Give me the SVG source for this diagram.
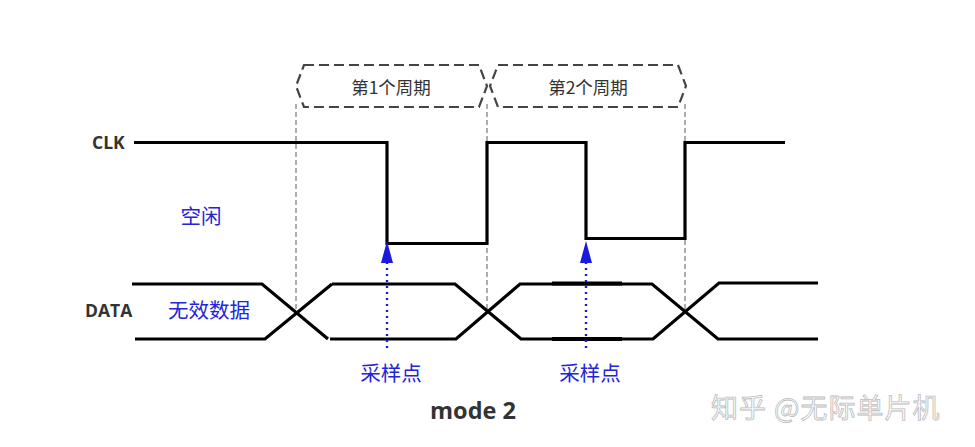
<svg xmlns="http://www.w3.org/2000/svg" width="975" height="447" viewBox="0 0 975 447">
<defs>
<style>
.sig{fill:none;stroke:#000;stroke-width:3.2;stroke-linejoin:miter;stroke-linecap:butt}
.guide{fill:none;stroke:#999;stroke-width:1.6;stroke-dasharray:5,3}
.brace{fill:none;stroke:#444;stroke-width:2.2;stroke-dasharray:10,5}
.samp{fill:none;stroke:#1a1ae0;stroke-width:2.4;stroke-dasharray:2,4}
.lbl{font-family:"Open Sans","Noto Sans",sans-serif;font-weight:bold;fill:#333}
.cn{font-family:"Noto Sans CJK SC",sans-serif;fill:#2424d8;font-size:20.5px}
.per{font-family:"Noto Sans CJK SC",sans-serif;fill:#333;font-size:17.5px}
</style>
</defs>
<rect width="975" height="447" fill="#fff"/>
<g id="guides">
<line class="guide" x1="296" y1="104" x2="296" y2="312"/>
<line class="guide" x1="487" y1="104" x2="487" y2="312"/>
<line class="guide" x1="685" y1="104" x2="685" y2="312"/>
</g>
<g id="period1">
<path class="brace" d="M304,65 L479,65 L487,86 L479,107 L304,107 L296,86 Z"/>
<text class="per" x="391" y="94" text-anchor="middle">第1个周期</text>
</g>
<g id="period2">
<path class="brace" d="M498,65 L678,65 L686,86 L678,107 L498,107 L490,86 Z"/>
<text class="per" x="588" y="94" text-anchor="middle">第2个周期</text>
</g>
<g id="clk">
<text class="lbl" x="92" y="148.5" font-size="17.5">CLK</text>
<path class="sig" d="M134,142.5 H387 V243.5 H487 V142.5 H586 V238.5 H685 V142.5 H785"/>
</g>
<g id="data">
<text class="lbl" x="85" y="317" font-size="17.5">DATA</text>
<path class="sig" d="M132,284 H262 L328,339"/>
<path class="sig" d="M135,339 H265 L332,284"/>
<path class="sig" d="M330,339 H456 L520,284 H652 L718,339 H818"/>
<path class="sig" d="M332,284 H455 L521,339 H653 L719,283 H818"/>
<line x1="552" y1="283.5" x2="622" y2="283.5" stroke="#000" stroke-width="4"/>
<line x1="552" y1="339" x2="622" y2="339" stroke="#000" stroke-width="4"/>
</g>
<g id="connectors">
<line class="samp" x1="387" y1="262" x2="387" y2="352"/>
<line class="samp" x1="586" y1="262" x2="586" y2="352"/>
<path d="M381,263 L387,241 L393,263 Z" fill="#1a1ae0"/>
<path d="M580,263 L586,241 L592,263 Z" fill="#1a1ae0"/>
</g>
<g id="labels">
<text class="cn" x="201" y="224" text-anchor="middle">空闲</text>
<text class="cn" x="209" y="318" text-anchor="middle">无效数据</text>
<text class="cn" x="391" y="381" text-anchor="middle">采样点</text>
<text class="cn" x="590" y="381" text-anchor="middle">采样点</text>
<text class="lbl" x="473" y="419" font-size="23.5" text-anchor="middle">mode 2</text>
</g>
<g id="watermark">
<text x="711" y="418" font-family="Noto Sans CJK SC,sans-serif" font-size="27" letter-spacing="1" fill="#fff" stroke="#bbb" stroke-width="0.8">知乎 @无际单片机</text>
</g>
</svg>
